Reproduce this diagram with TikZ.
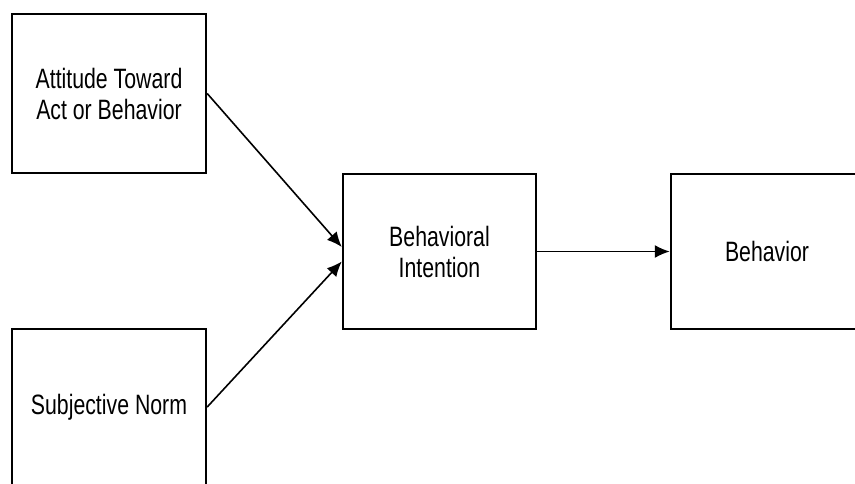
\documentclass[tikz,border=0pt]{standalone}
\usepackage{fontspec}
\setmainfont[FakeStretch=0.76]{Liberation Sans}
\usetikzlibrary{arrows.meta}
\usepackage{xcolor}

\begin{document}
\begin{tikzpicture}[x=1pt, y=-1pt]
        % ================= styles =================
        \tikzset{
            % box: white fill, black frame, text in the middle
            box/.style={rectangle, draw=black, line width=2.4pt, fill=white, inner sep=0pt,
                        align=center, font=\fontsize{28}{31}\selectfont},
            % connector: thin line, solid black head
            link/.style={line width=1.6pt, black, -{Latex[length=15pt, width=13pt]}}
        }

        % ================= frame =================
        \useasboundingbox (0,0) rectangle (855,483);
        \clip (0,0) rectangle (855,483);

        % ================= boxes =================
        \node[box, minimum width=194pt, minimum height=159pt] (att) at (109,93.5) {Attitude Toward\\Act or Behavior};
        \node[box, minimum width=194pt, minimum height=156pt] (sn) at (109,407) {Subjective Norm};
        \node[box, minimum width=193pt, minimum height=155pt] (bi) at (439.5,251.5) {Behavioral\\Intention};
        \node[box, minimum width=192pt, minimum height=155pt] (beh) at (767,251.5) {Behavior};

        % ================= connectors =================
        % 1. both inputs into the intention box
        \draw[link] (att.east) -- ([yshift=4.5pt]bi.west);
        \draw[link] (sn.east) -- ([yshift=-10pt]bi.west);

        % 2. intention to behavior
        \draw[link] (bi.east) -- (beh.west);

    \end{tikzpicture}
\end{document}
